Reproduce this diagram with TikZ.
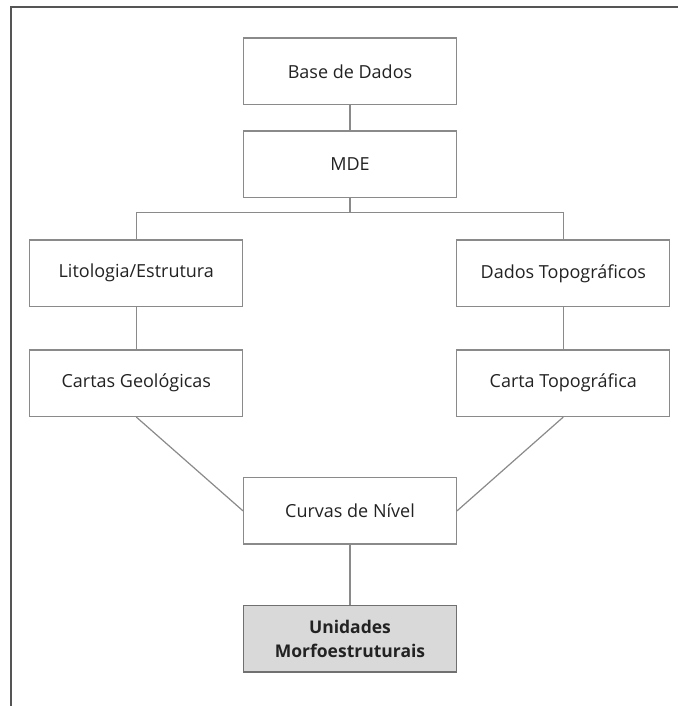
\documentclass[tikz,border=0pt]{standalone}
\usepackage{fontspec}
\setmainfont{Open Sans}
\definecolor{boxline}{HTML}{8A8A8A}
\definecolor{frameline}{HTML}{555555}
\definecolor{boxfill}{HTML}{D9D9D9}
\definecolor{finalline}{HTML}{707070}
\definecolor{txt}{HTML}{222222}
\begin{document}
\begin{tikzpicture}[x=1pt,y=-1pt,
  boxnode/.style={draw=boxline,line width=1.2pt,minimum width=213pt,minimum height=66.5pt,
    inner sep=0pt,align=center,text=txt,font=\fontsize{18}{24.5}\selectfont},
  finalnode/.style={boxnode,fill=boxfill,draw=finalline,font=\bfseries\fontsize{17.5}{24.5}\selectfont},
  link/.style={draw=boxline,line width=1.2pt}]
\useasboundingbox (0,0) rectangle (678,706);
\draw[frameline,line width=2pt] (11,706) -- (11,7.5) -- (678,7.5);
\node[boxnode] (base) at (350,71.3) {Base de Dados};
\node[boxnode] (mde) at (350,164.2) {MDE};
\node[boxnode] (lito) at (136.3,273.3) {Litologia/Estrutura};
\node[boxnode] (topo) at (563.3,273.3) {Dados Topográficos};
\node[boxnode] (geo) at (136.3,383.2) {Cartas Geológicas};
\node[boxnode] (ctopo) at (563.3,383.2) {Carta Topográfica};
\node[boxnode] (curvas) at (350,510.8) {Curvas de Nível};
\node[finalnode] (unid) at (350,638.8) {Unidades\\Morfoestruturais};
\coordinate (split) at (350,212.7);
\draw[link] (base) -- (mde);
\draw[link] (mde.south) -- (split);
\draw[link] (lito.north) |- (split) -| (topo.north);
\draw[link] (lito) -- (geo);
\draw[link] (topo) -- (ctopo);
\draw[link] (geo.south) -- (curvas.west);
\draw[link] (ctopo.south) -- (curvas.east);
\draw[link] (curvas) -- (unid);
\end{tikzpicture}
\end{document}
